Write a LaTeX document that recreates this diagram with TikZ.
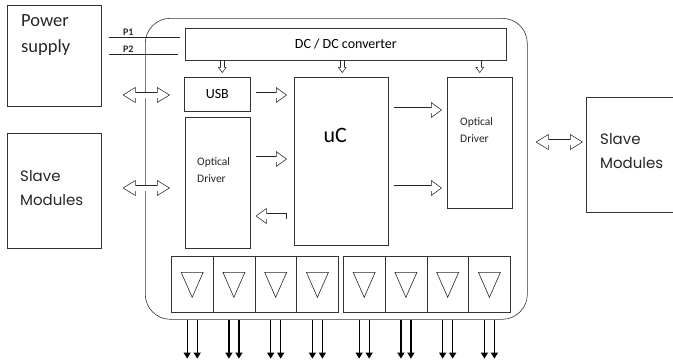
\documentclass[tikz,border=0pt]{standalone}
\usepackage{fontspec}
\setmainfont{Carlito}
\newfontfamily\gothic{Poppins}
\usetikzlibrary{arrows.meta, positioning, calc}
\tikzset{
  box/.style  = {draw=black!80, line width=0.6pt, anchor=north west, inner sep=0pt},
  txt/.style  = {anchor=north west, align=left, inner sep=0pt, text=black!85},
  ext/.style  = {txt, font=\gothic\fontsize{15}{24}\selectfont},
  opt/.style  = {txt, font=\fontsize{11.5}{17.5}\selectfont},
  % hollow block arrows: black outline, white inside
  hol/.style  = {line width=6.4pt, draw=black!85, -{Triangle[length=11pt, width=16pt, line width=0pt]},
                 postaction={draw=white, line width=5pt, shorten <=0.7pt, shorten >=10pt, -},
                 postaction={draw=white, line width=5pt, shorten <=0.7pt, shorten >=1.2pt,
                             -{Triangle[length=9.1pt, width=13.2pt, line width=0pt]}}},
  dhol/.style = {line width=6.4pt, draw=black!85,
                 {Triangle[length=13pt, width=16pt, line width=0pt]}-{Triangle[length=13pt, width=16pt, line width=0pt]},
                 postaction={draw=white, line width=5pt, shorten <=1.3pt, shorten >=1.3pt,
                             {Triangle[length=11pt, width=13.5pt, line width=0pt]}-{Triangle[length=11pt, width=13.5pt, line width=0pt]}}},
  sml/.style  = {line width=4.6pt, draw=black!85, -{Triangle[length=6pt, width=9pt, line width=0pt]},
                 postaction={draw=white, line width=3.2pt, shorten <=0.7pt, shorten >=5.2pt, -},
                 postaction={draw=white, line width=3.2pt, shorten <=0.7pt, shorten >=1.2pt,
                             -{Triangle[length=4.1pt, width=6.2pt, line width=0pt]}}},
  wire/.style = {line width=0.6pt, black!85},
  pin/.style  = {font=\bfseries\fontsize{10}{10}\selectfont, inner sep=1pt},
  buf/.style  = {box, minimum width=41.75pt, minimum height=56pt},
  outp/.style = {line width=1.3pt, -{Triangle[length=6pt, width=7pt]}},
}
\begin{document}
\begin{tikzpicture}[x=1pt, y=-1pt]
  \useasboundingbox (0,0) rectangle (673,360);
  % outside the board
  \node[box, minimum width=94pt, minimum height=101pt] (ps) at (7,5) {};
  \node[box, minimum width=94pt, minimum height=115pt] (sl) at (7,133) {};
  \node[box, minimum width=92pt, minimum height=115pt] (sr) at (586,97) {};
  \node[txt, font=\fontsize{18.5}{26}\selectfont] at ([shift={(14,9)}]ps.north west) {Power\\supply};
  \node[ext] at ([shift={(13,37)}]sl.north west) {Slave\\Modules};
  \node[ext] at ([shift={(14,36)}]sr.north west) {Slave\\Modules};
  % board
  \node[box, rounded corners=25pt, minimum width=382pt, minimum height=301pt] (main) at (145,18) {};
  \node[box, minimum width=321pt, minimum height=32pt, font=\fontsize{14}{16}\selectfont] (dc) at (185,28) {DC / DC converter};
  \node[box, minimum width=66pt, minimum height=34pt, font=\fontsize{14}{16}\selectfont] (usb) at (184,77) {USB};
  \node[box, minimum width=94pt, minimum height=168pt] (uc) at (294,77) {};
  \node[font=\fontsize{22}{24}\selectfont] at ([shift={(-6,58)}]uc.north) {uC};
  \node[box, minimum width=65pt, minimum height=131pt] (odl) at (185,117) {};
  \node[box, minimum width=65pt, minimum height=131pt] (odr) at (447,77) {};
  \node[opt] at ([shift={(12,40)}]odl.north west) {Optical\\Driver};
  \node[opt] at ([shift={(13,40)}]odr.north west) {Optical\\Driver};
  % power pins
  \draw[wire, shorten <=7pt, shorten >=5pt] (ps.east |- 0,37) -- node[pin, pos=0.32, above]{P1} (dc.west |- 0,37);
  \draw[wire, shorten <=7pt, shorten >=7pt] (ps.east |- 0,54) -- node[pin, pos=0.32, above]{P2} (dc.west |- 0,54);
  % supply arrows
  \draw[sml] ([xshift=5]usb.north |- dc.south) -- ([xshift=5,yshift=4]usb.north);
  \draw[sml] ([xshift=1]uc.north |- dc.south) -- ([xshift=1,yshift=4]uc.north);
  \draw[sml] (odr.north |- dc.south) -- ([yshift=4]odr.north);
  % data arrows
  \draw[hol] ([xshift=5]usb.east |- 0,95) -- ([xshift=-7]uc.west |- 0,95);
  \draw[hol] ([xshift=5]odl.east |- 0,159) -- ([xshift=-7]uc.west |- 0,159);
  \draw[hol] ([xshift=-7]uc.west |- 0,216) -- ([xshift=5]odl.east |- 0,216);
  \draw[hol] ([xshift=5]uc.east |- 0,110) -- ([xshift=-5]odr.west |- 0,110);
  \draw[hol] ([xshift=5]uc.east |- 0,188) -- ([xshift=-5]odr.west |- 0,188);
  \draw[dhol] ([xshift=21]ps.east |- 0,95) -- ([xshift=-14]usb.west |- 0,95);
  \draw[dhol] ([xshift=21]sl.east |- 0,188) -- ([xshift=-15]odl.west |- 0,188);
  \draw[dhol] ([xshift=23]odr.east |- 0,142) -- ([xshift=-3]sr.west |- 0,142);
  % output buffers
  \foreach \i in {0,...,3} \node[buf] (b\i) at ({171+\i*41.75},256) {};
  \foreach \i in {4,...,7} \node[buf] (b\i) at ({343+(\i-4)*41.75},256) {};
  \foreach \i in {0,...,7} {
    \draw[wire] ([shift={(-11,-12)}]b\i.center) -- ([shift={(11,-12)}]b\i.center)
      -- ([shift={(0,13)}]b\i.center) -- cycle;
    \draw[outp] ([xshift=-5]b\i.south |- main.south) -- ++(0,39);
    \draw[outp] ([xshift=5]b\i.south |- main.south) -- ++(0,39);
  }
\end{tikzpicture}
\end{document}
